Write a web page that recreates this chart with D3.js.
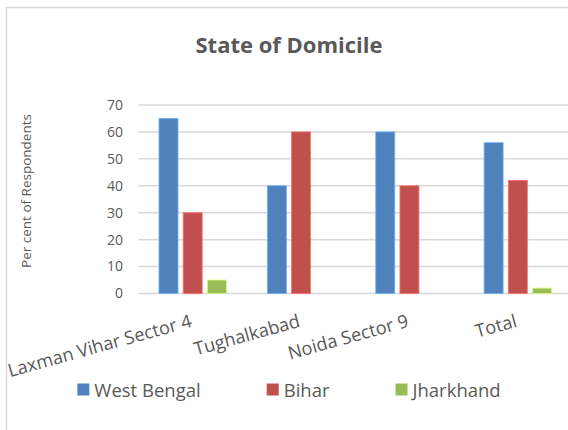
<!DOCTYPE html>
<html lang="en">
<head>
<meta charset="utf-8">
<title>State of Domicile</title>
<script src="https://d3js.org/d3.v7.min.js"></script>
<style>
  body { margin: 0; background: #fff; }
  text { font-family: "Open Sans", "Noto Sans", sans-serif; fill: #595959; }
</style>
</head>
<body>
<div id="chart"></div>
<script>
// data
const categories = ["Laxman Vihar Sector 4", "Tughalkabad", "Noida Sector 9", "Total"]
const seriesNames = ["West Bengal", "Bihar", "Jharkhand"]
const westBengal = [65, 40, 60, 56]
const bihar = [30, 60, 40, 42]
const jharkhand = [5, 0, 0, 2]
const yTicks = [0, 10, 20, 30, 40, 50, 60, 70]

const colors = ["#4f81bd", "#c0504d", "#9bbb59"]
const values = [westBengal, bihar, jharkhand]

const width = 568
const height = 430

const plot = { left: 138.5, right: 572, top: 105, bottom: 293.5 }

const svg = d3.select("#chart").append("svg")
    .attr("width", width)
    .attr("height", height)

// chart frame (right/bottom edges run off the picture)
svg.append("rect")
    .attr("x", 6.5).attr("y", 7.5)
    .attr("width", 620).attr("height", 500)
    .attr("fill", "none")
    .attr("stroke", "#d9d9d9")
    .attr("stroke-width", 1.5)

svg.append("text")
    .attr("x", 289).attr("y", 53)
    .attr("text-anchor", "middle")
    .style("font-size", "22px")
    .style("font-weight", "bold")
    .text("State of Domicile")

var y = d3.scaleLinear().domain([0, 70]).range([plot.bottom, plot.top])

var x0 = d3.scaleBand().domain(categories).range([plot.left, plot.right])
var x1 = d3.scaleBand().domain(seriesNames)
    .range([20.5, x0.bandwidth() - 20.5])
    .paddingInner(0.215)

// gridlines
svg.append("g")
    .selectAll("line")
    .data(yTicks)
    .enter().append("line")
    .attr("x1", plot.left).attr("x2", plot.right)
    .attr("y1", d => y(d)).attr("y2", d => y(d))
    .attr("stroke", "#d9d9d9")
    .attr("stroke-width", 1.5)

// y tick labels
svg.append("g")
    .selectAll("text")
    .data(yTicks)
    .enter().append("text")
    .attr("x", 123)
    .attr("y", d => y(d))
    .attr("dy", "0.35em")
    .attr("text-anchor", "end")
    .style("font-size", "14px")
    .text(d => d)

svg.append("text")
    .attr("transform", "translate(31,191) rotate(-90)")
    .attr("text-anchor", "middle")
    .style("font-size", "13.5px")
    .text("Per cent of Respondents")

// bars
const rows = []
seriesNames.forEach((s, i) => {
    categories.forEach((c, j) => {
        rows.push({ series: s, cat: c, value: values[i][j], color: colors[i] })
    })
})

svg.append("g")
    .selectAll("rect")
    .data(rows.filter(d => d.value > 0))
    .enter().append("rect")
    .attr("x", d => x0(d.cat) + x1(d.series))
    .attr("y", d => y(d.value))
    .attr("width", x1.bandwidth())
    .attr("height", d => y(0) - y(d.value))
    .attr("fill", d => d.color)
    .attr("stroke", d => d3.color(d.color).brighter(0.9))
    .attr("stroke-width", 0.8)

// category labels, rotated
svg.append("g")
    .selectAll("text")
    .data(categories)
    .enter().append("text")
    .attr("transform", d => "translate(" + (x0(d) + x0.bandwidth() / 2) + ",326.5) rotate(-15.5)")
    .attr("text-anchor", "end")
    .style("font-size", "18.2px")
    .text(d => d)

// legend
const legend = svg.append("g")
const items = legend.selectAll("g")
    .data(seriesNames)
    .enter().append("g")
items.append("rect")
    .attr("y", 383.5)
    .attr("width", 12).attr("height", 12)
    .attr("fill", (d, i) => colors[i])
items.append("text")
    .attr("x", 17)
    .attr("y", 396.5)
    .style("font-size", "18.5px")
    .text(d => d)

let cursor = 0
items.each(function() {
    const g = d3.select(this)
    g.attr("transform", "translate(" + cursor + ",0)")
    cursor += 17 + g.select("text").node().getComputedTextLength() + 66
})
const legendWidth = cursor - 66
legend.attr("transform", "translate(" + (289 - legendWidth / 2) + ",0)")
</script>
</body>
</html>
